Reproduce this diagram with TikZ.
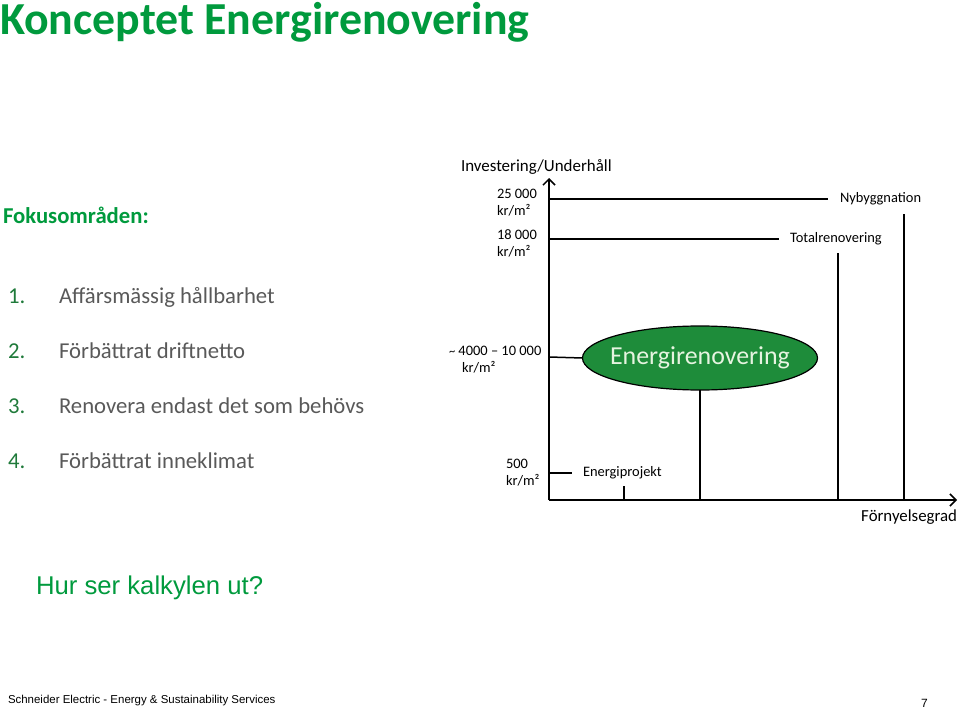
\documentclass[tikz,border=0pt]{standalone}
\usepackage{fontspec}
\setmainfont{Carlito}
\newfontfamily\arialf{Liberation Sans}
\usetikzlibrary{arrows.meta,shapes.geometric}
\definecolor{segreen}{HTML}{009A3D}
\definecolor{numgreen}{HTML}{1F7A3A}
\definecolor{txtgray}{HTML}{595959}
\definecolor{ellgreen}{HTML}{1E8C3A}
\definecolor{elltext}{HTML}{E6F4E0}
\begin{document}
\begin{tikzpicture}[x=1bp,y=-1bp,
  every node/.style={inner sep=0pt, outer sep=0pt},
  listnum/.style={anchor=base west, text=numgreen, font=\fontsize{22.8}{27}\selectfont},
  listtxt/.style={anchor=base west, text=txtgray, font=\fontsize{22.8}{27}\selectfont},
  ylbl/.style={anchor=north west, align=left, font=\fontsize{14.5}{17}\selectfont},
  lbl/.style={anchor=west, font=\fontsize{14.5}{17}\selectfont},
  chart/.style={line width=1.5bp, black},
  axis/.style={chart, -{Straight Barb[length=6bp,width=12bp,line width=1.5bp]}}
]
\useasboundingbox (0,0) rectangle (959,708);

% title and list
\node[anchor=west, text=segreen, font=\bfseries\fontsize{46}{54}\selectfont] (title) at (0,22) {Konceptet Energirenovering};
\node[anchor=west, text=segreen, font=\bfseries\fontsize{22.8}{27}\selectfont] (fokus) at (3,215) {Fokusområden:};
\node[listnum] (n1) at (8,303) {1.};
\node[listtxt] (t1) at (59,303) {Affärsmässig hållbarhet};
\node[listnum] (n2) at (8,358) {2.};
\node[listtxt] (t2) at (59,358) {Förbättrat driftnetto};
\node[listnum] (n3) at (8,413) {3.};
\node[listtxt] (t3) at (59,413) {Renovera endast det som behövs};
\node[listnum] (n4) at (8,468) {4.};
\node[listtxt] (t4) at (59,468) {Förbättrat inneklimat};

\node[anchor=west, text=segreen, font=\arialf\fontsize{25.8}{30}\selectfont] (hur) at (36,588) {Hur ser kalkylen ut?};
\node[anchor=west, font=\arialf\fontsize{11.5}{14}\selectfont] (foot) at (8,701) {Schneider Electric - Energy \& Sustainability Services};
\node[anchor=west, font=\arialf\fontsize{12}{14}\selectfont] (page) at (921,703) {7};

% chart axes
\coordinate (O) at (549,500);
\coordinate (ytop) at (549,178);
\coordinate (xend) at (957,500);
\draw[axis] (O) -- (ytop);
\draw[axis] (O) -- (xend);
\node[anchor=west, font=\fontsize{17}{20}\selectfont] (ylab) at (461,167) {Investering/Underhåll};
\node[anchor=east, font=\fontsize{16.9}{20}\selectfont] (xlab) at (957,517) {Förnyelsegrad};

% Nybyggnation
\coordinate (ny0) at (549,199);
\coordinate (ny1) at (828,199);
\node[lbl] (nyb) at (840,199) {Nybyggnation};
\draw[chart] (ny0) -- (ny1);
\coordinate (nyv0) at (904,214);
\coordinate (nyv1) at (904,500);
\draw[chart] (nyv0) -- (nyv1);
\node[ylbl] (y25) at (497,189) {25 000\\kr/m²};

% Totalrenovering
\coordinate (tr0) at (549,239);
\coordinate (tr1) at (779,239);
\node[lbl] (tot) at (790,239) {Totalrenovering};
\draw[chart] (tr0) -- (tr1);
\coordinate (trv0) at (838,253);
\coordinate (trv1) at (838,500);
\draw[chart] (trv0) -- (trv1);
\node[ylbl] (y18) at (497,230) {18 000\\kr/m²};

% Energirenovering
\node[ellipse, draw=black, line width=1.2bp, fill=ellgreen, inner xsep=-14bp, minimum width=235bp, minimum height=64bp, text=elltext, font=\fontsize{26}{30}\selectfont] (er) at (700,358) {Energirenovering};
\coordinate (er0) at (549,357);
\draw[chart] (er0) -- (er.west);
\coordinate (erv1) at (700,500);
\draw[chart] (er.south) -- (erv1);
\node[ylbl] (y4) at (449,346) {{\fontsize{12.5}{17}\selectfont\textasciitilde}\ 4000 -- 10 000\\\hspace*{13bp}kr/m²};

% Energiprojekt
\coordinate (ep0) at (549,473);
\coordinate (ep1) at (572,473);
\draw[chart] (ep0) -- (ep1);
\node[lbl] (ep) at (583,473) {Energiprojekt};
\coordinate (epv0) at (624,486);
\coordinate (epv1) at (624,500);
\draw[chart] (epv0) -- (epv1);
\node[ylbl] (y5) at (506,459) {500\\kr/m²};
\end{tikzpicture}
\end{document}
